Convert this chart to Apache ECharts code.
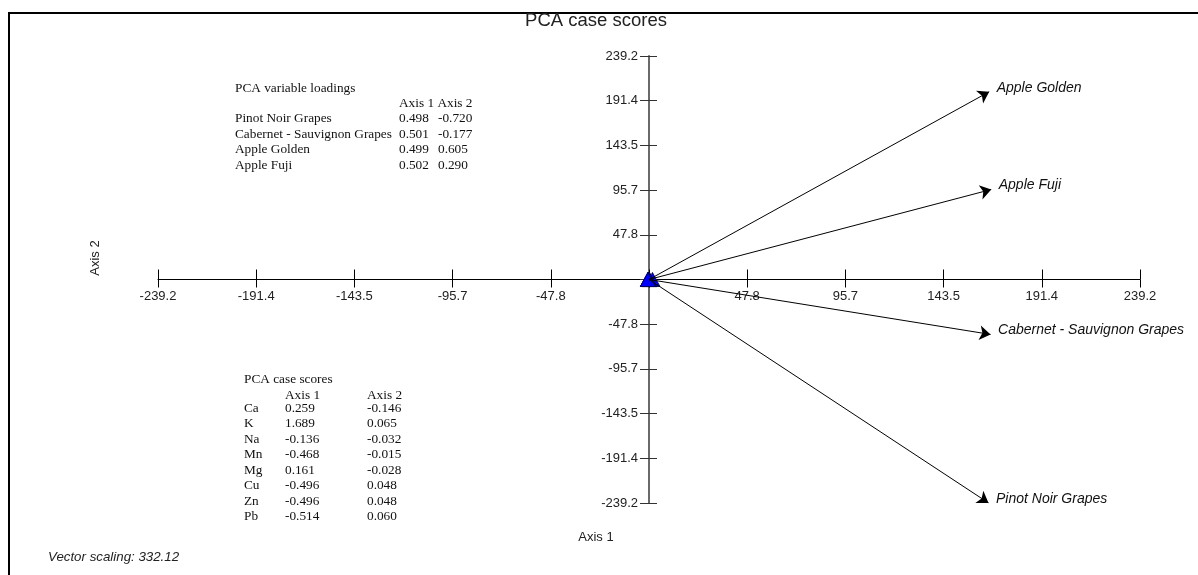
<!DOCTYPE html>
<html>
<head>
<meta charset="utf-8">
<script src="https://cdn.jsdelivr.net/npm/echarts@6/dist/echarts.min.js"></script>
<style>
html,body{margin:0;padding:0;background:#fff;}
#chart{width:1198px;height:575px;}
</style>
</head>
<body>
<div id="chart"></div>
<script>
// ---- data ----
const loadingNames = ['Pinot Noir Grapes', 'Cabernet - Sauvignon Grapes', 'Apple Golden', 'Apple Fuji'];
const loadingAxis1 = [0.498, 0.501, 0.499, 0.502];
const loadingAxis2 = [-0.720, -0.177, 0.605, 0.290];
const vectorScaling = 332.12;
const caseNames = ['Ca', 'K', 'Na', 'Mn', 'Mg', 'Cu', 'Zn', 'Pb'];
const caseAxis1 = [0.259, 1.689, -0.136, -0.468, 0.161, -0.496, -0.496, -0.514];
const caseAxis2 = [-0.146, 0.065, -0.032, -0.015, -0.028, 0.048, 0.048, 0.060];
const axisMax = 239.2;
const tickStep = 47.84;

const chart = echarts.init(document.getElementById('chart'), null, {renderer: 'canvas'});

const tickFmt = v => (Math.abs(v) < 1e-6 ? '' : v.toFixed(1));
const sans = 'Arial, "Liberation Sans", sans-serif';
const serif = '"Times New Roman", "Liberation Serif", serif';

const gridL = 158, gridR = 58, gridT = 56, gridB = 72;
const gridW = 1198 - gridL - gridR, gridH = 575 - gridT - gridB;

function baseAxis(extra) {
  return Object.assign({
    type: 'value', min: -axisMax, max: axisMax, interval: tickStep,
    splitLine: {show: false}
  }, extra);
}

// tables as text
const g = [];
g.push({type: 'line', shape: {x1: 8, y1: 13, x2: 1198, y2: 13}, style: {stroke: '#000', lineWidth: 2}, silent: true});
g.push({type: 'line', shape: {x1: 9, y1: 12, x2: 9, y2: 575}, style: {stroke: '#000', lineWidth: 2}, silent: true});
function txt(t, x, y, font, color, extra) {
  g.push({type: 'text', x: x, y: y, silent: true,
    style: Object.assign({text: t, font: font, fill: color || '#111', verticalAlign: 'middle', align: 'left'}, extra || {})});
}
const tf = '13.3px ' + serif;
txt('PCA variable loadings', 235, 89, tf);
txt('Axis 1 Axis 2', 399, 104, tf);
loadingNames.forEach((n, i) => {
  const y = 119 + i * 15.4;
  txt(n, 235, y, tf);
  txt(loadingAxis1[i].toFixed(3), 399, y, tf);
  txt(loadingAxis2[i].toFixed(3), 438, y, tf);
});
txt('PCA case scores', 244, 380, tf);
txt('Axis 1', 285, 396, tf);
txt('Axis 2', 367, 396, tf);
caseNames.forEach((n, i) => {
  const y = 408.5 + i * 15.5;
  txt(n, 244, y, tf);
  txt(caseAxis1[i].toFixed(3), 285, y, tf);
  txt(caseAxis2[i].toFixed(3), 367, y, tf);
});
txt('PCA case scores', 596, 21, '18.5px ' + sans, '#222', {align: 'center'});
txt('Axis 1', 596, 537, '13px ' + sans, '#222', {align: 'center'});
g.push({type: 'text', x: 95, y: 258, rotation: Math.PI / 2, silent: true,
  style: {text: 'Axis 2', font: '13px ' + sans, fill: '#222', align: 'center', verticalAlign: 'middle'}});
txt('Vector scaling: 332.12', 48, 557, 'italic 13.3px ' + sans, '#222');

const option = {
  animation: false,
  backgroundColor: '#fff',
  grid: {left: gridL, right: gridR, top: gridT, bottom: gridB, containLabel: false},
  xAxis: [
    baseAxis({position: 'bottom', offset: -gridH / 2,
      axisLine: {onZero: false, lineStyle: {color: '#000', width: 1}},
      axisTick: {inside: false, length: 8, lineStyle: {color: '#000', width: 1}},
      axisLabel: {formatter: tickFmt, margin: 10, fontSize: 13, fontFamily: sans, color: '#222'}}),
    baseAxis({position: 'bottom', offset: -gridH / 2,
      axisLine: {show: false, onZero: false},
      axisTick: {inside: true, length: 10, lineStyle: {color: '#000', width: 1}},
      axisLabel: {show: false}})
  ],
  yAxis: [
    baseAxis({position: 'left', offset: -gridW / 2,
      axisLine: {onZero: false, lineStyle: {color: '#6a6a6a', width: 2}},
      axisTick: {inside: false, length: 9, lineStyle: {color: '#333', width: 1}},
      axisLabel: {formatter: tickFmt, margin: 11, fontSize: 13, fontFamily: sans, color: '#222'}}),
    baseAxis({position: 'left', offset: -gridW / 2,
      axisLine: {show: false, onZero: false},
      axisTick: {inside: true, length: 8, lineStyle: {color: '#333', width: 1}},
      axisLabel: {show: false}})
  ],
  series: [
    {
      type: 'scatter', name: 'cases', xAxisIndex: 0, yAxisIndex: 0, z: 2,
      symbol: 'triangle', symbolSize: [15, 14],
      itemStyle: {color: '#0000ff', borderColor: '#000044', borderWidth: 0.8, opacity: 1},
      data: caseNames.map((n, i) => ({name: n, value: [caseAxis1[i], caseAxis2[i]]}))
    },
    {
      type: 'lines', name: 'vectors', coordinateSystem: 'cartesian2d', xAxisIndex: 0, yAxisIndex: 0, z: 3,
      symbol: ['none', 'arrow'], symbolSize: 11,
      lineStyle: {color: '#000', width: 1, opacity: 1, curveness: 0},
      data: loadingNames.map((n, i) => ({name: n,
        coords: [[0, 0], [loadingAxis1[i] * vectorScaling, loadingAxis2[i] * vectorScaling]]}))
    },
    {
      type: 'scatter', name: 'vectorLabels', xAxisIndex: 0, yAxisIndex: 0, z: 4,
      symbolSize: 1, itemStyle: {color: 'rgba(0,0,0,0)'},
      label: {show: true, position: 'right', distance: 7, offset: [0, -4],
        formatter: p => p.name, fontStyle: 'italic', fontSize: 14, fontFamily: sans,
        color: '#111', opacity: 1, textBorderWidth: 0},
      emphasis: {disabled: true},
      data: loadingNames.map((n, i) => ({name: n, value: [loadingAxis1[i] * vectorScaling, loadingAxis2[i] * vectorScaling]}))
    }
  ],
  graphic: g
};
chart.setOption(option);
</script>
</body>
</html>
